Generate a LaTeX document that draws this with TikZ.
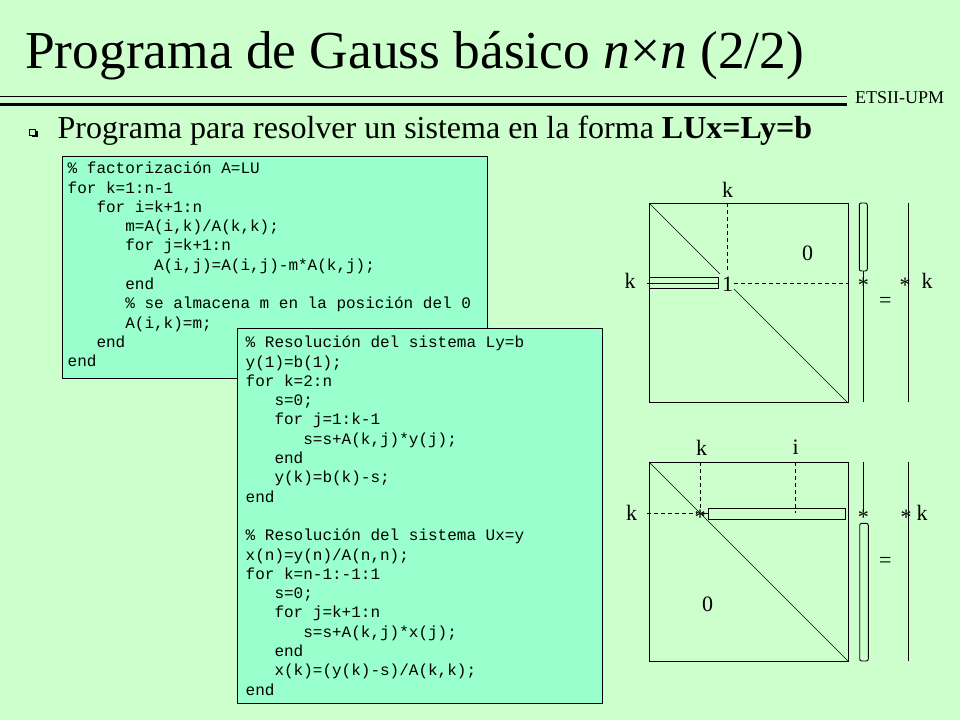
\documentclass[tikz,border=0pt]{standalone}
\usepackage{fontspec}
\setmainfont{Liberation Serif}
\newfontfamily\codefont{Liberation Mono}
\definecolor{bg}{RGB}{204,255,204}
\definecolor{codefill}{RGB}{153,255,204}
\tikzset{
  codebox/.style={draw=black, line width=0.9pt, fill=codefill},
  codetext/.style={font=\codefont\fontsize{16}{19.3}\selectfont, align=left, inner sep=0pt, anchor=north west},
  lab/.style={font=\fontsize{22}{26}\selectfont, inner sep=0pt},
  astx/.style={font=\fontsize{22}{26}\selectfont, inner sep=0pt},
  mline/.style={line width=0.9pt},
  diag/.style={line width=0.6pt},
  dline/.style={line width=0.8pt, dash pattern=on 4pt off 3pt},
}
\newcommand\ind{\hspace*{1.8em}}
\begin{document}
\begin{tikzpicture}[x=1pt,y=-1pt]
\fill[bg] (0,0) rectangle (960,720);
\useasboundingbox (0,0) rectangle (960,720);

% title
\node[anchor=base west, inner sep=0pt, font=\fontsize{53.4}{60}\selectfont] (title) at (25,68.3)
  {Programa de Gauss básico \textit{n}×\textit{n} (2/2)};
\draw[line width=1pt] (0,96) -- (846.7,96);
\draw[line width=3.5pt] (0,104.3) -- (846.7,104.3);
\node[anchor=base west, inner sep=0pt, font=\fontsize{18}{20}\selectfont] (etsii) at (855,103.3) {ETSII-UPM};

% bullet
\fill[black] (31.5,131) rectangle (37.5,137);
\draw[fill=bg, line width=0.8pt] (29.8,129.3) rectangle (35.8,135.3);
\node[anchor=base west, inner sep=0pt, font=\fontsize{32}{36}\selectfont] (bullet) at (57.5,138.3)
  {Programa para resolver un sistema en la forma \textbf{LUx=Ly=b}};

% code box 1
\draw[codebox] (62,156) rectangle (487,378);
\node[codetext] (code1) at (67.5,159.5) {\rule{0pt}{14pt}\% factorización A=LU\\
for k=1:n-1\\
\ind for i=k+1:n\\
\ind\ind m=A(i,k)/A(k,k);\\
\ind\ind for j=k+1:n\\
\ind\ind\ind A(i,j)=A(i,j)-m*A(k,j);\\
\ind\ind end\\
\ind\ind \% se almacena m en la posición del 0\\
\ind\ind A(i,k)=m;\\
\ind end\\
end};

% code box 2
\draw[codebox] (237,328) rectangle (602,703);
\node[codetext] (code2) at (245.5,333.5) {\rule{0pt}{14pt}\% Resolución del sistema Ly=b\\
y(1)=b(1);\\
for k=2:n\\
\ind s=0;\\
\ind for j=1:k-1\\
\ind\ind s=s+A(k,j)*y(j);\\
\ind end\\
\ind y(k)=b(k)-s;\\
end\\
\mbox{}\\
\% Resolución del sistema Ux=y\\
x(n)=y(n)/A(n,n);\\
for k=n-1:-1:1\\
\ind s=0;\\
\ind for j=k+1:n\\
\ind\ind s=s+A(k,j)*x(j);\\
\ind end\\
\ind x(k)=(y(k)-s)/A(k,k);\\
end};

% ---------- top matrix ----------
\draw[mline] (649,203) rectangle (848,402);
\node[lab] (tk) at (727.7,190) {k};
\node[lab] (tone) at (727.7,284) {1};
\node[lab] (tzero) at (807.7,253.3) {0};
\node[lab] (tkl) at (630,281) {k};
\coordinate (tdv) at (727.7,203);
\coordinate (tdh) at (848,283.3);
\draw[dline] (tdv) -- (727.7,272.7);
\draw[dline] (734,283.3) -- (tdh);
\draw[diag] (649,203) -- (720,274);
\draw[diag] (734,289) -- (848,403);
\draw[mline] (649,277.3) rectangle (718.7,288.3);
\draw[mline] (647,283.3) -- (718.7,283.3);
% vector
\draw[mline, rounded corners=2pt] (859.3,203) rectangle (867.3,271);
\draw[mline] (863.3,271) -- (863.3,402);
\node[astx] (tast1) at (863.3,285.5) {*};
\node[lab] (teq) at (885.3,302) {=};
\draw[mline] (908.3,203) -- (908.3,402);
\node[astx] (tast2) at (905,285.5) {*};
\node[lab] (tkr) at (927,281) {k};

% ---------- bottom matrix ----------
\draw[mline] (649,462) rectangle (848,661);
\draw[diag] (649,462) -- (848,661);
\node[lab] (bk) at (701.7,447.5) {k};
\node[lab] (bi) at (795.7,447.5) {i};
\node[lab] (bkl) at (631.7,513.3) {k};
\node[lab] (bzero) at (707.7,604) {0};
\draw[dline] (700,462) -- (700,511);
\draw[dline] (795.7,462) -- (795.7,513);
\draw[dline] (647,513.3) -- (697,513.3);
\node[astx] (bast0) at (700,517) {*};
\draw[mline] (702,513.3) -- (708.3,513.3);
\draw[mline] (708.3,508.3) rectangle (845.7,519.3);
% vector
\draw[mline] (863.3,462) -- (863.3,512);
\node[astx] (bast1) at (863.3,517) {*};
\draw[mline, rounded corners=2pt] (859.7,523.3) rectangle (868.3,661);
\node[lab] (beq) at (885.3,562) {=};
\draw[mline] (908.3,462) -- (908.3,661);
\node[astx] (bast2) at (906,517) {*};
\node[lab] (bkr) at (922,513) {k};
\end{tikzpicture}
\end{document}
